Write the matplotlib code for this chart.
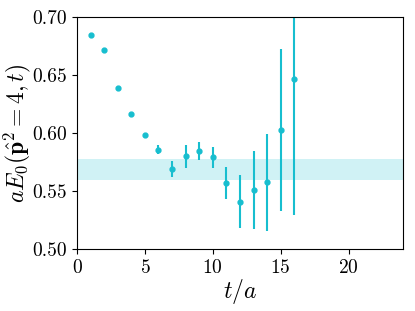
import matplotlib
matplotlib.use("Agg")
import matplotlib.pyplot as plt

plt.rcParams["font.family"] = "serif"
plt.rcParams["font.serif"] = ["cmr10"]
plt.rcParams["mathtext.fontset"] = "cm"
plt.rcParams["axes.formatter.use_mathtext"] = True

# values
t = [1, 2, 3, 4, 5, 6, 7, 8, 9, 10, 11, 12, 13, 14, 15, 16]
energy = [0.6847, 0.6716, 0.6385, 0.6164, 0.5983, 0.5856, 0.5690, 0.5800,
          0.5845, 0.5790, 0.5569, 0.5408, 0.5509, 0.5575, 0.6026, 0.6466]
err = [0.0005, 0.0005, 0.0006, 0.0008, 0.0012, 0.004, 0.007, 0.010,
       0.008, 0.009, 0.014, 0.023, 0.034, 0.042, 0.070, 0.117]
band_lo = 0.5592
band_hi = 0.5776

color = "#17becf"

fig = plt.figure(figsize=(4.15, 3.11), dpi=100)
ax = fig.add_axes([0.1855, 0.1994, 0.7855, 0.7459])

ax.fill_between([0, 24], band_lo, band_hi, color=color, alpha=0.2, linewidth=0)
ax.errorbar(t, energy, yerr=err, fmt="o", color=color, markersize=3.5,
            elinewidth=1.5, capsize=0)

ax.set_xlim(0, 24)
ax.set_ylim(0.50, 0.70)
ax.set_xticks([0, 5, 10, 15, 20])
ax.set_yticks([0.50, 0.55, 0.60, 0.65, 0.70])
ax.set_yticklabels(["0.50", "0.55", "0.60", "0.65", "0.70"])
ax.tick_params(labelsize=14)
ax.set_xlabel(r"$t/a$", fontsize=17, labelpad=0)
ax.set_ylabel(r"$aE_0(\hat{\mathbf{p}}^2=4,t)$", fontsize=17, labelpad=0)

fig.savefig("out.png", dpi=100)
